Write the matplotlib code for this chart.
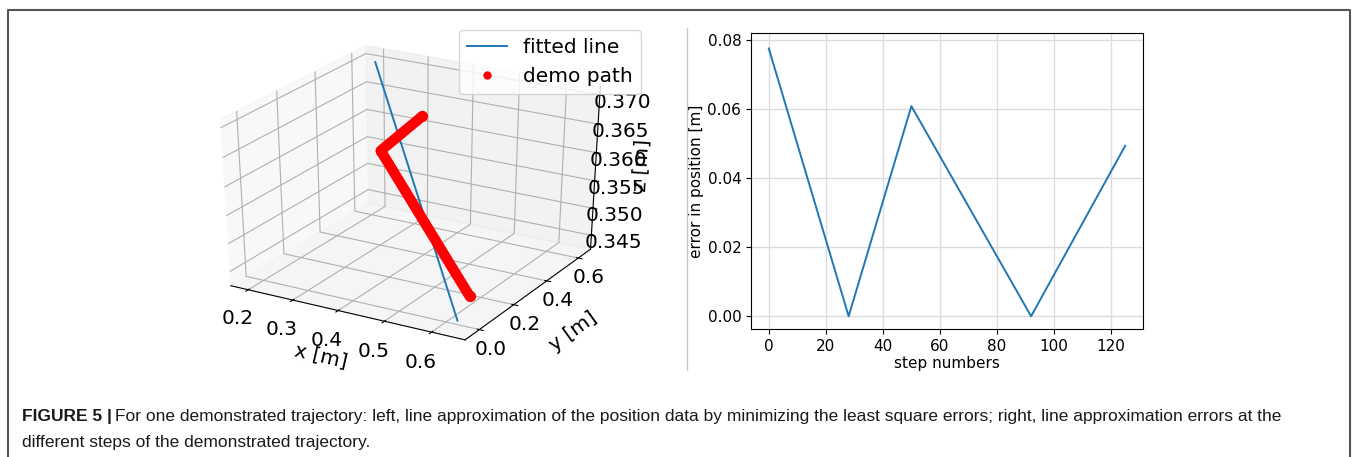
import numpy as np
import matplotlib as mpl; mpl.use('Agg')
import matplotlib.pyplot as plt
from matplotlib.lines import Line2D

mpl.rcParams.update({'font.family': 'DejaVu Sans'})

# left panel: fitted line and demo path (3D, metres)
fit_x = [0.226, 0.620]
fit_y = [0.568, 0.011]
fit_z = [0.3712, 0.3428]
demo_x = [0.370, 0.305, 0.597]
demo_y = [0.464, 0.396, 0.141]
demo_z = [0.3656, 0.3598, 0.3439]
xticks3 = [0.2, 0.3, 0.4, 0.5, 0.6]
yticks3 = [0.0, 0.2, 0.4, 0.6]
zticks3 = [0.345, 0.350, 0.355, 0.360, 0.365, 0.370]

# right panel: error per step
steps = [0, 28, 50, 92, 125]
err = [0.0776, 0.0, 0.0609, 0.0, 0.0494]

BLUE = '#1f77b4'
W, H = 1356, 457
fig = plt.figure(figsize=(W / 100, H / 100), dpi=100)
def fx(px): return px / W
def fy(py): return 1 - py / H

# ---- left: 3D (old-style cube stretched to a wide box)
ax3 = fig.add_axes([fx(180), fy(351), fx(455), 319 / H], projection='3d')
ax3.apply_aspect = lambda position=None: None
ax3.set_box_aspect((1, 1, 1))
ax3.plot(fit_x, fit_y, fit_z, color=BLUE, lw=1.4, label='fitted line')
ax3.plot(demo_x, demo_y, demo_z, color='red', lw=7.5, solid_capstyle='round', solid_joinstyle='round')
ax3.scatter(demo_x, demo_y, demo_z, color='red', s=50, depthshade=False, label='demo path')
ax3.set_xlim(0.16, 0.67); ax3.set_ylim(-0.08, 0.68); ax3.set_zlim(0.3424, 0.3714)
ax3.set_xticks(xticks3); ax3.set_yticks(yticks3); ax3.set_zticks(zticks3)
ax3.set_xticklabels([f'{v:.1f}' for v in xticks3])
ax3.set_yticklabels([f'{v:.1f}' for v in yticks3])
ax3.set_zticklabels([f'{v:.3f}' for v in zticks3])
ax3.tick_params(labelsize=14.5)
ax3.tick_params(axis='y', pad=-1)
ax3.tick_params(axis='z', pad=1)
ax3.set_xlabel('x [m]', fontsize=14.5); ax3.set_ylabel('y [m]', fontsize=14.5, labelpad=6)
ax3.set_zlabel('z [m]', fontsize=14.5, labelpad=-2)
hl = [Line2D([], [], color=BLUE, lw=1.4),
      Line2D([], [], ls='none', marker='o', color='red', ms=5)]
ax3.legend(hl, ['fitted line', 'demo path'], loc='upper right', fontsize=14.5, borderaxespad=0,
           bbox_to_anchor=(fx(641), fy(30)), bbox_transform=fig.transFigure)

# ---- right: error curve
ax = fig.add_axes([fx(751), fy(329), fx(392), 296 / H])
ax.plot(steps, err, color=BLUE, lw=1.4)
ax.set_xlim(-6.25, 131.25); ax.set_ylim(-0.0037, 0.0821)
ax.set_xticks([0, 20, 40, 60, 80, 100, 120])
ax.set_yticks([0.0, 0.02, 0.04, 0.06, 0.08])
ax.yaxis.set_major_formatter(mpl.ticker.FormatStrFormatter('%.2f'))
ax.grid(True, color='#dcdcdc', lw=1)
ax.set_axisbelow(True)
ax.tick_params(labelsize=11)
ax.set_xlabel('step numbers', fontsize=11, labelpad=1.5)
ax.set_ylabel('error in position [m]', fontsize=11, labelpad=2.5)

# separator and frame
fig.add_artist(Line2D([fx(687), fx(687)], [fy(28), fy(370)], color='#c8c8c8', lw=1))
fig.add_artist(Line2D([fx(8), fx(8), fx(1350), fx(1350)], [0, fy(10), fy(10), 0], color='#555555', lw=1.5))

# caption
cf = ['Liberation Sans', 'DejaVu Sans']
t1 = fig.text(fx(22), fy(417), 'FIGURE 5 |', fontsize=12.5, fontweight='bold', family=cf, va='center', color='#1a1a1a')
r = fig.canvas.get_renderer()
bb = t1.get_window_extent(r)
fig.text((bb.x1 + 3) / W, fy(417), 'For one demonstrated trajectory: left, line approximation of the position data by minimizing the least square errors; right, line approximation errors at the',
         fontsize=12.5, family=cf, va='center', color='#1a1a1a')
fig.text(fx(22), fy(443), 'different steps of the demonstrated trajectory.', fontsize=12.5, family=cf, va='center', color='#1a1a1a')

fig.savefig('out.png', dpi=100)
